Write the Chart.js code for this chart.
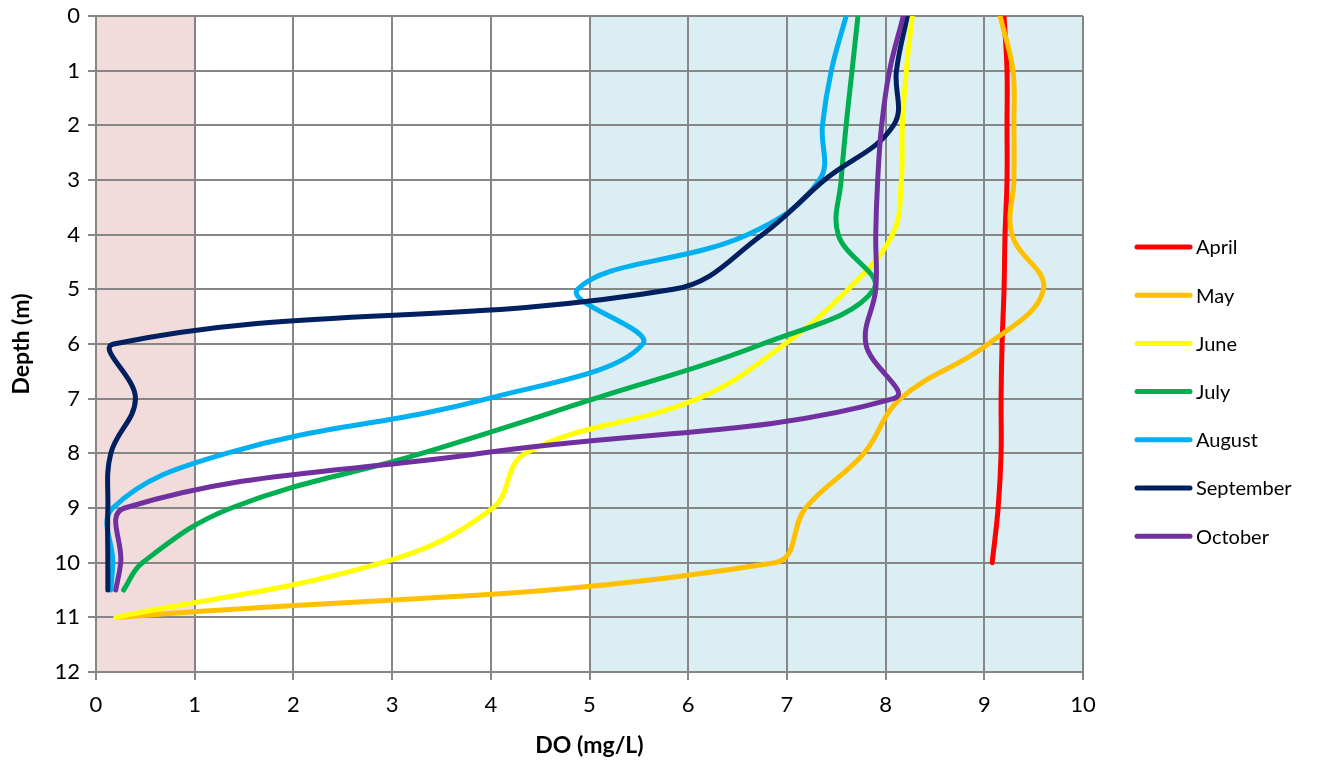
<!DOCTYPE html>
<html>
<head>
<meta charset="utf-8">
<title>DO profiles</title>
<script src="https://cdn.jsdelivr.net/npm/chart.js@4"></script>
<style>
  html, body { margin: 0; padding: 0; background: #fff; }
  #wrap { width: 1328px; height: 761px; }
</style>
</head>
<body>
<div id="wrap"><canvas id="chart"></canvas></div>
<script>
// DATA (depth in m, DO in mg/L)

const months = ['April', 'May', 'June', 'July', 'August', 'September', 'October'];
const colors = ['#ff0000', '#ffc000', '#ffff00', '#00b050', '#00b0f0', '#002060', '#7030a0'];

const aprilDepth = [0, 1, 2, 3, 4, 5, 6, 7, 8, 9, 10];
const aprilDO    = [9.2, 9.23, 9.23, 9.23, 9.21, 9.2, 9.18, 9.17, 9.17, 9.14, 9.08];

const mayDepth = [0, 1, 2, 3, 4, 5, 6, 7, 8, 9, 10, 11];
const mayDO    = [9.16, 9.29, 9.3, 9.3, 9.28, 9.6, 9.04, 8.15, 7.78, 7.19, 6.88, 0.23];

const juneDepth = [0, 1, 2, 3, 4, 5, 6, 7, 8, 9, 10, 11];
const juneDO    = [8.27, 8.21, 8.17, 8.16, 8.07, 7.62, 6.98, 6.1, 4.35, 4.02, 2.9, 0.2];

const julyDepth = [0, 1, 2, 3, 4, 5, 6, 7, 8, 9, 10, 10.5];
const julyDO    = [7.72, 7.66, 7.6, 7.55, 7.52, 7.88, 6.75, 5.05, 3.3, 1.37, 0.47, 0.28];

const augustDepth = [0, 1, 2, 3, 4, 5, 6, 7, 8, 9, 10, 10.5];
const augustDO    = [7.6, 7.45, 7.36, 7.33, 6.6, 4.88, 5.54, 3.97, 1.32, 0.17, 0.17, 0.15];

const septemberDepth = [0, 1, 2, 3, 4, 5, 6, 7, 8, 9, 10, 10.5];
const septemberDO    = [8.22, 8.11, 8.08, 7.38, 6.75, 5.85, 0.18, 0.4, 0.15, 0.12, 0.12, 0.12];

const octoberDepth = [0, 1, 2, 3, 4, 5, 6, 7, 8, 9, 10, 10.5];
const octoberDO    = [8.18, 8.04, 7.96, 7.92, 7.9, 7.9, 7.8, 8.08, 3.9, 0.29, 0.25, 0.2];

const xTicks = [0, 1, 2, 3, 4, 5, 6, 7, 8, 9, 10];
const yTicks = [0, 1, 2, 3, 4, 5, 6, 7, 8, 9, 10, 11, 12];

// shaded DO bands: [from, to, colour]
const bands = [[0, 1, '#f2dcdb'], [5, 10, '#dbeef3']];

const series = [
    [aprilDepth, aprilDO],
    [mayDepth, mayDO],
    [juneDepth, juneDO],
    [julyDepth, julyDO],
    [augustDepth, augustDO],
    [septemberDepth, septemberDO],
    [octoberDepth, octoberDO]
];


// PLUGINS

const FONT = 'Lato, "Liberation Sans", sans-serif';
const GRID = '#868686';

const bandPlugin = {
    id: 'bands',
    beforeDraw(chart) {
        const {ctx, chartArea: a, scales: {x}} = chart;
        ctx.save();
        ctx.fillStyle = '#fff';
        ctx.fillRect(0, 0, chart.width, chart.height);
        bands.forEach(([from, to, col]) => {
            const x0 = x.getPixelForValue(from);
            const x1 = x.getPixelForValue(to);
            ctx.fillStyle = col;
            ctx.fillRect(x0, a.top, x1 - x0, a.bottom - a.top);
        });
        ctx.restore();
    }
};

// legend drawn by hand so it can sit away from the plot like the original
const legendPlugin = {
    id: 'sideLegend',
    afterDraw(chart) {
        const {ctx, chartArea: a} = chart;
        const x0 = a.right + 54;
        const y0 = 247;
        ctx.save();
        ctx.font = '20px ' + FONT;
        ctx.textBaseline = 'middle';
        ctx.lineCap = 'round';
        months.forEach((m, i) => {
            const y = y0 + i * 48.2;
            ctx.strokeStyle = colors[i];
            ctx.lineWidth = 5;
            ctx.beginPath();
            ctx.moveTo(x0, y);
            ctx.lineTo(x0 + 53, y);
            ctx.stroke();
            ctx.fillStyle = '#000';
            ctx.fillText(m, x0 + 59, y + 1);
        });
        ctx.restore();
    }
};


// CHART

const datasets = series.map(([depth, vals], i) => ({
    label: months[i],
    data: depth.map((d, k) => ({ x: vals[k], y: d })),
    showLine: true,
    borderColor: colors[i],
    backgroundColor: colors[i],
    borderWidth: 5,
    borderCapStyle: 'round',
    borderJoinStyle: 'round',
    pointRadius: 0,
    tension: 0.4,
    order: months.length - i   // later months on top
}));

new Chart(document.getElementById('chart'), {
    type: 'scatter',
    data: { datasets },
    options: {
        responsive: true,
        maintainAspectRatio: false,
        animation: false,
        layout: { padding: { left: 0, top: 16, right: 245, bottom: 0 } },
        plugins: {
            legend: { display: false },
            tooltip: { enabled: false }
        },
        scales: {
            x: {
                type: 'linear',
                min: 0,
                max: 10,
                afterBuildTicks: (s) => { s.ticks = xTicks.map(v => ({ value: v })); },
                afterFit: (s) => { s.height = 89; },
                grid: { color: GRID, lineWidth: 2, tickLength: 8 },
                border: { color: GRID, width: 2 },
                ticks: { color: '#000', padding: 12, font: { family: FONT, size: 22 } },
                title: {
                    display: true,
                    text: 'DO (mg/L)',
                    color: '#000',
                    padding: { top: 0, bottom: 2 },
                    font: { family: FONT, size: 23, weight: 'bold' }
                }
            },
            y: {
                type: 'linear',
                reverse: true,
                min: 0,
                max: 12,
                afterBuildTicks: (s) => { s.ticks = yTicks.map(v => ({ value: v })); },
                afterFit: (s) => {
                    s.width = 96;
                    s.paddingTop = 0;      // let the layout padding set the top edge
                    s.paddingBottom = 0;
                },
                grid: { color: GRID, lineWidth: 2, tickLength: 8 },
                border: { color: GRID, width: 2 },
                ticks: { color: '#000', padding: 8, font: { family: FONT, size: 22 } },
                title: {
                    display: true,
                    text: 'Depth (m)',
                    color: '#000',
                    padding: { top: 8, bottom: 0 },
                    font: { family: FONT, size: 23, weight: 'bold' }
                }
            }
        }
    },
    plugins: [bandPlugin, legendPlugin]
});
</script>
</body>
</html>
